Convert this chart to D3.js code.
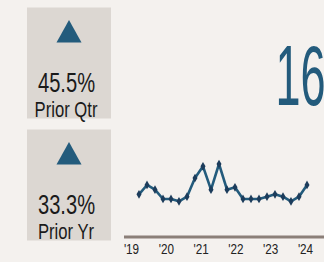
<!DOCTYPE html>
<html>
<head>
<script src="https://d3js.org/d3.v7.min.js"></script>
<style>
  body {margin: 0; background: #f4f1ee;}
  svg {display: block;}
  .narrow {font-family: "Liberation Sans", Arial, sans-serif;}
</style>
</head>
<body>
<svg id="chart" width="324" height="262"></svg>
<script>
// quarterly values, '19 to '24
var values = [12, 16, 14, 10, 10, 9, 11, 19, 24, 14, 25, 14, 15, 10, 10, 10, 11, 12, 11, 9, 11, 16];
var yearLabels = ["'19", "'20", "'21", "'22", "'23", "'24"];
var years = [2019, 2020, 2021, 2022, 2023, 2024];
var bigNumber = "16";
var cards = [
  {pct: "45.5%", label: "Prior Qtr"},
  {pct: "33.3%", label: "Prior Yr"}
];

var blue = "#235b7c", dark = "#1c3c5b";
var svg = d3.select("#chart");

// change cards on the left
var card = svg.selectAll("g.card")
    .data(cards)
    .enter().append("g")
    .attr("class", "card")
    .attr("transform", function(d, i) { return "translate(27," + (7.5 + i * 122) + ")"; });

card.append("rect")
    .attr("width", 84)
    .attr("height", 111)
    .attr("fill", "#dcd7d2");

card.append("path")
    .attr("d", "M42,12.5 L54.5,35 L29.5,35 Z")
    .attr("fill", blue);

card.append("text")
    .attr("class", "narrow")
    .attr("transform", "translate(39.5,84) scale(0.72,1)")
    .attr("text-anchor", "middle")
    .attr("font-size", 28)
    .attr("fill", "#1a1a1a")
    .text(function(d) { return d.pct; });

card.append("text")
    .attr("class", "narrow")
    .attr("transform", "translate(39,109) scale(0.74,1)")
    .attr("text-anchor", "middle")
    .attr("font-size", 22.5)
    .attr("fill", "#1a1a1a")
    .text(function(d) { return d.label; });

// big number
svg.append("text")
    .attr("class", "narrow")
    .attr("transform", "translate(275.5,105) scale(0.53,1)")
    .attr("font-size", 85)
    .attr("fill", blue)
    .text(bigNumber);

// sparkline
var x = d3.scalePoint()
    .domain(d3.range(values.length))
    .range([139, 307]);

var y = d3.scaleLinear()
    .domain([0, 25])
    .range([222.3, 164]);

var xYear = d3.scaleLinear()
    .domain([2019, 2024])
    .range([131.5, 305.5]);

svg.append("line")
    .attr("x1", 124).attr("x2", 324)
    .attr("y1", 237).attr("y2", 237)
    .attr("stroke", "#8b7f78")
    .attr("stroke-width", 3);

svg.selectAll("text.tick")
    .data(years)
    .enter().append("text")
    .attr("class", "tick narrow")
    .attr("transform", function(d) { return "translate(" + xYear(d) + ",254) scale(0.78,1)"; })
    .attr("text-anchor", "middle")
    .attr("font-size", 15)
    .attr("fill", "#222")
    .text(function(d, i) { return yearLabels[i]; });

var line = d3.line()
    .x(function(d, i) { return x(i); })
    .y(function(d) { return y(d); });

svg.append("path")
    .datum(values)
    .attr("d", line)
    .attr("fill", "none")
    .attr("stroke", blue)
    .attr("stroke-width", 2.6)
    .attr("stroke-linejoin", "round");

svg.selectAll("path.pt")
    .data(values)
    .enter().append("path")
    .attr("class", "pt")
    .attr("d", d3.symbol().type(d3.symbolDiamond).size(22))
    .attr("transform", function(d, i) { return "translate(" + x(i) + "," + y(d) + ")"; })
    .attr("fill", dark);
</script>
</body>
</html>
